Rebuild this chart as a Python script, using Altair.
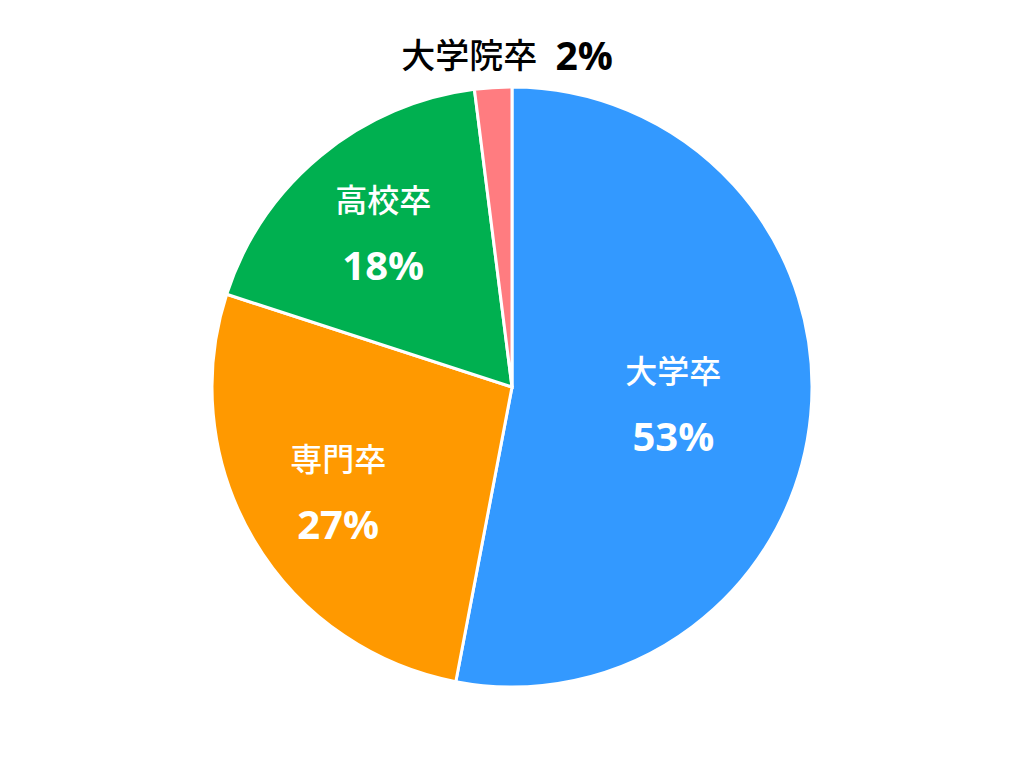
import altair as alt
import pandas as pd

# Final education breakdown (percent)
categories = ["大学卒", "専門卒", "高校卒", "大学院卒"]
shares = [53, 27, 18, 2]
colors = ["#3399FF", "#FF9900", "#00B050", "#FF7C80"]

df = pd.DataFrame({
    "cat": categories,
    "share": shares,
    "idx": list(range(len(categories))),
})

JP_FONT = "Noto Sans CJK JP"
NUM_FONT = "Open Sans"

arcs = alt.Chart(df).mark_arc(outerRadius=300, stroke="white", strokeWidth=3).encode(
    theta=alt.Theta("share:Q", stack=True),
    order=alt.Order("idx:Q"),
    color=alt.Color("cat:N", scale=alt.Scale(domain=categories, range=colors), legend=None),
)

# label anchors: middle angle of each slice (radians, clockwise from 12 o'clock)
lab = alt.Chart(df).transform_window(
    cum="sum(share)", sort=[alt.SortField("idx", order="ascending")]
).transform_joinaggregate(
    total="sum(share)"
).transform_calculate(
    mid="(datum.cum - datum.share / 2) / datum.total * 2 * PI",
    pct="datum.share + '%'",
    inside="datum.share >= 5",
    lr="datum.cat == '大学卒' ? 162 : 202",
)

theta_mid = alt.Theta("mid:Q", scale=None)

inner_name = lab.transform_calculate(label="datum.inside ? datum.cat : ''").mark_text(
    font=JP_FONT, fontSize=32, fontWeight=500, color="white", dy=-29
).encode(theta=theta_mid, radius=alt.Radius("lr:Q", scale=None), text="label:N")

inner_pct = lab.transform_calculate(label="datum.inside ? datum.pct : ''").mark_text(
    font=NUM_FONT, fontSize=40, fontWeight="bold", color="white", dy=37
).encode(theta=theta_mid, radius=alt.Radius("lr:Q", scale=None), text="label:N")

# small slice gets its label outside the pie
outer_name = lab.transform_calculate(label="datum.inside ? '' : datum.cat").mark_text(
    font=JP_FONT, fontSize=34, fontWeight=500, color="black", radius=330, dx=-22
).encode(theta=theta_mid, text="label:N")

outer_pct = lab.transform_calculate(label="datum.inside ? '' : datum.pct").mark_text(
    font=NUM_FONT, fontSize=39, fontWeight="bold", color="black", radius=330, dx=93
).encode(theta=theta_mid, text="label:N")

chart = alt.layer(arcs, inner_name, inner_pct, outer_name, outer_pct).resolve_scale(
    theta="independent", radius="independent"
).properties(
    width=1024, height=774, padding=0,
    autosize=alt.AutoSizeParams(type="none"),
).configure_view(stroke=None).configure(background="white")

chart.save("out.html", embed_options={"renderer": "svg", "actions": False})
